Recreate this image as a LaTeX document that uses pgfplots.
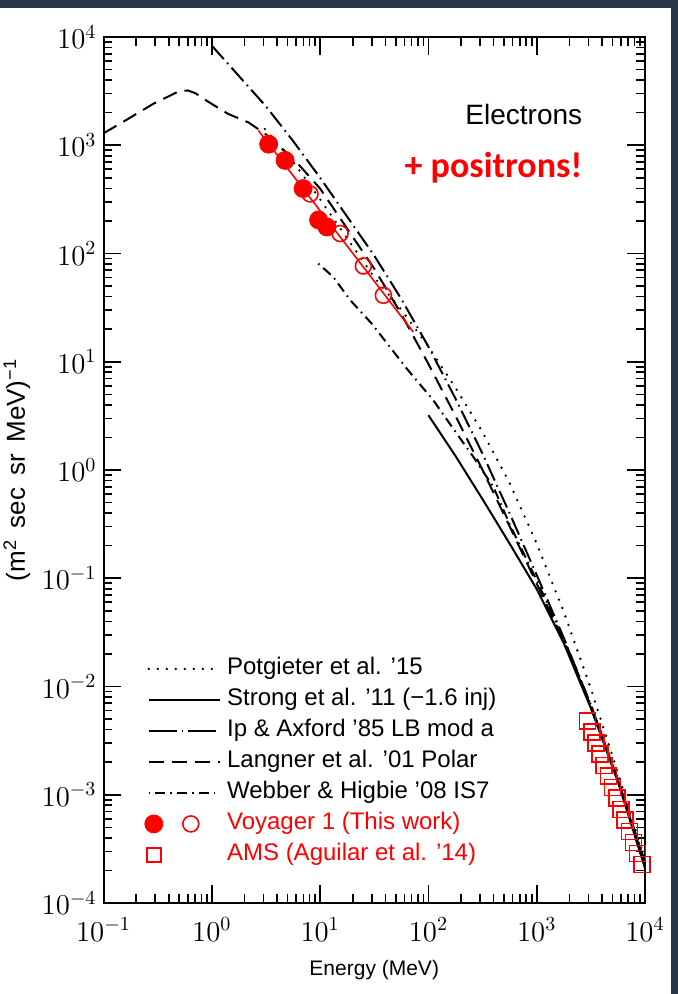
\documentclass[border=0pt]{standalone}
\usepackage{fontspec}
\setmainfont{Liberation Sans}
\newfontfamily\posfont{Carlito}
\usepackage{pgfplots}
\pgfplotsset{compat=1.18}
\definecolor{slidebg}{RGB}{40,54,70}

\begin{document}
\begin{tikzpicture}[x=0.5pt,y=0.5pt]
\useasboundingbox (0,0) rectangle (678,994);
\fill[slidebg] (0,0) rectangle (678,994);
\fill[white] (0,0) rectangle (671,986);
\begin{axis}[
    at={(51.75pt,45.5pt)}, anchor=south west,
    scale only axis, width=270.75pt, height=433pt,
    xmode=log, ymode=log,
    xmin=0.1, xmax=1e4, ymin=1e-4, ymax=1e4,
    xtick={0.1,1,10,100,1000,10000},
    ytick={1e-4,1e-3,1e-2,1e-1,1,10,100,1000,1e4},
    axis line style={line width=1pt},
    every tick/.style={black, line width=0.8pt},
    major tick length=9pt, minor tick length=4.5pt,
    tick align=inside,
    ticklabel style={font=\fontsize{14.5}{16}\selectfont},
    xticklabel style={yshift=-4pt},
    xlabel={Energy (MeV)},
    ylabel={(m\textsuperscript{2}\hspace{0.45em}sec\hspace{0.45em}sr\hspace{0.45em}MeV)\textsuperscript{−1}},
    xlabel style={font=\fontsize{10.5}{12}\selectfont, at={(axis description cs:0.5,-0.0774)}, anchor=center},
    ylabel style={font=\fontsize{13}{15}\selectfont, at={(axis description cs:-0.16,0.5)}, anchor=center},
    legend cell align=left,
    legend image code/.code={\draw[#1] (0pt,0pt) -- (35.5pt,0pt);},
    legend style={at={(axis description cs:0.0637,0.2875)}, anchor=north west,
        draw=none, fill=none, font=\fontsize{12}{13}\selectfont,
        nodes={inner sep=0pt, text height=8pt, text depth=2.5pt},
        row sep=5pt, column sep=3pt},
]
% legend entries in the order of the reference
\addlegendimage{black, line width=1.3pt, line cap=round, dash pattern=on 0pt off 4.5pt}
\addlegendentry{Potgieter et al. '15}
\addlegendimage{black, line width=1pt}
\addlegendentry{Strong et al. '11 (−1.6 inj)}
\addlegendimage{black, line width=1pt, dash pattern=on 14pt off 2.5pt on 0.8pt off 2.5pt}
\addlegendentry{Ip \& Axford '85 LB mod a}
\addlegendimage{black, line width=1pt, dash pattern=on 7.5pt off 4pt}
\addlegendentry{Langner et al. '01 Polar}
\addlegendimage{black, line width=1pt, dash pattern=on 0.8pt off 2.5pt on 5pt off 2.5pt}
\addlegendentry{Webber \& Higbie '08 IS7}
\addlegendimage{legend image code/.code={\fill[red] (2.5pt,0pt) circle (4.5pt);
    \draw[red, line width=0.8pt] (21pt,0pt) circle (4pt);}}
\addlegendentry{\color{red}Voyager 1 (This work)}
\addlegendimage{legend image code/.code={\draw[red, line width=0.8pt] (-1pt,-3.5pt) rectangle (6pt,3.5pt);}}
\addlegendentry{\color{red}AMS (Aguilar et al. '14)}

% Langner et al. '01 Polar
\addplot[black, line width=1pt, dash pattern=on 7.5pt off 4pt, forget plot] coordinates {
(0.1,1288) (0.1698,1758) (0.2884,2415) (0.5012,3162) (0.6026,3206) (0.7079,3020)
(0.9333,2512) (1.413,1950) (2.188,1622) (3.162,1259) (5.623,758.6) (10,398.1)
(17.78,169.8) (31.62,72.44) (56.23,27.54) (100,9.550) (177.8,3.162) (316.2,1.0)
(562.3,0.3020) (1000,0.08913) (1778,0.02630) (3162,6.607e-3) (5623,1.349e-3) (10000,2.291e-4)
};
% Ip & Axford '85 LB mod a
\addplot[black, line width=1pt, dash pattern=on 9pt off 2.5pt on 0.8pt off 2.5pt, forget plot] coordinates {
(1,8318) (1.778,4365) (3.162,2291) (5.623,1096) (10,501.2) (17.78,218.8) (31.62,95.50)
(56.23,38.02) (100,13.80) (177.8,4.571) (316.2,1.413) (562.3,0.3981) (1000,0.1072)
(1778,0.02818) (3162,6.761e-3) (5623,1.380e-3) (10000,2.399e-4)
};
% Potgieter et al. '15
\addplot[black, line width=1.3pt, line cap=round, dash pattern=on 0pt off 4.5pt, forget plot] coordinates {
(3.090,1413) (5.623,707.9) (10,316.2) (17.78,138.0) (31.62,60.26) (56.23,30.20)
(100,13.80) (177.8,5.754) (316.2,2.239) (562.3,0.7586) (1000,0.2089) (1778,0.04898)
(3162,9.550e-3) (5623,1.585e-3) (10000,2.512e-4)
};
% Strong et al. '11
\addplot[black, line width=1pt, forget plot] coordinates {
(100,3.206) (177.8,1.349) (316.2,0.5370) (562.3,0.2089) (1000,0.07943) (1778,0.02512)
(3162,6.310e-3) (5623,1.318e-3) (10000,2.089e-4)
};
% Webber & Higbie '08 IS7
\addplot[black, line width=1pt, dash pattern=on 0.8pt off 2.5pt on 5pt off 2.5pt, forget plot] coordinates {
(9.616,80.72) (13.24,60.67) (19.01,36.98) (29.92,22.54) (63.10,8.650) (110.9,4.406)
(182.4,2.173) (260.0,1.321) (398.1,0.6982) (562.3,0.3162) (1000,0.09550) (1778,0.02754)
(3162,6.761e-3) (5623,1.380e-3) (10000,2.188e-4)
};
% Voyager 1
\addplot[red, line width=0.8pt, forget plot] coordinates {(2.692,1371) (72.44,18.84)};
\addplot[red, only marks, mark=*, mark size=4.5pt, forget plot] coordinates {
(3.350,1023) (4.753,724.4) (6.966,398.1) (9.683,204.2) (11.56,175.8)
};
\addplot[red, only marks, mark=o, mark size=4pt, line width=0.8pt, forget plot] coordinates {
(8.07,355) (15.3,153) (25.1,76.7) (38.4,41.1)
};
% AMS
\addplot[red, only marks, mark=square, mark size=4pt, line width=0.8pt, forget plot] coordinates {
(2951,4.79e-3) (3221,3.79e-3) (3524,3.00e-3) (3846,2.38e-3) (4207,1.87e-3) (4592,1.49e-3)
(5023,1.17e-3) (5483,9.29e-4) (5998,7.31e-4) (6546,5.81e-4) (7161,4.58e-4) (7816,3.62e-4)
(8551,2.86e-4) (9333,2.26e-4)
};

\node[anchor=east, font=\fontsize{14}{16}\selectfont] at (axis description cs:0.897,0.910) {Electrons};
\node[anchor=east, text=red, font=\posfont\bfseries\fontsize{18}{20}\selectfont] at (axis description cs:0.897,0.849) {+ positrons!};
\end{axis}
\end{tikzpicture}
\end{document}
